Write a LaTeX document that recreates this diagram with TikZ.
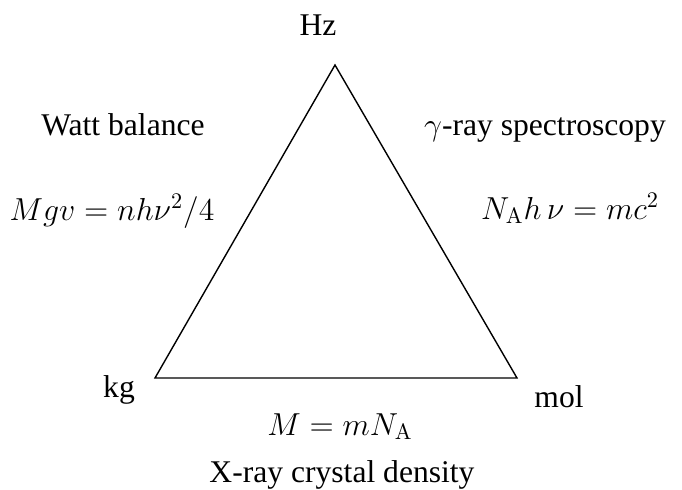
\documentclass[tikz,border=0pt]{standalone}
\usepackage{fix-cm}
\usepackage[no-math]{fontspec}
\setmainfont{Liberation Serif}
\begin{document}
\begin{tikzpicture}[x=0.5pt,y=-0.5pt,
  lbl/.style={inner sep=0pt,anchor=base,font=\fontsize{15.8}{18}\selectfont},
  eq/.style={inner sep=0pt,anchor=base,font=\fontsize{15.9}{18}\selectfont},
  tri/.style={draw=black,line width=0.7pt,line join=miter}]
\useasboundingbox (0,0) rectangle (682,489);
\coordinate (top) at (335,65);
\coordinate (bl) at (155,378);
\coordinate (br) at (517,378);
\draw[tri] (top) -- (br) -- (bl) -- cycle;
\node[lbl] (hz) at (318,35) {Hz};
\node[lbl] (kg) at (119,397) {kg};
\node[lbl] (mol) at (559,407) {mol};
\node[lbl] (watt) at (123,135) {Watt balance};
\node[lbl] (gamma) at (545,135) {{\fontsize{15.9}{18}\selectfont$\gamma$}-ray spectroscopy};
\node[eq] (eqw) at (112,220) {$Mgv = nh\nu^2/4$};
\node[eq] (eqg) at (570,219) {$N_{\mathrm{A}}h\,\nu = mc^2$};
\node[eq] (eqx) at (340,435) {$M = mN_{\mathrm{A}}$};
\node[lbl] (xray) at (342,482) {X-ray crystal density};
\end{tikzpicture}
\end{document}
